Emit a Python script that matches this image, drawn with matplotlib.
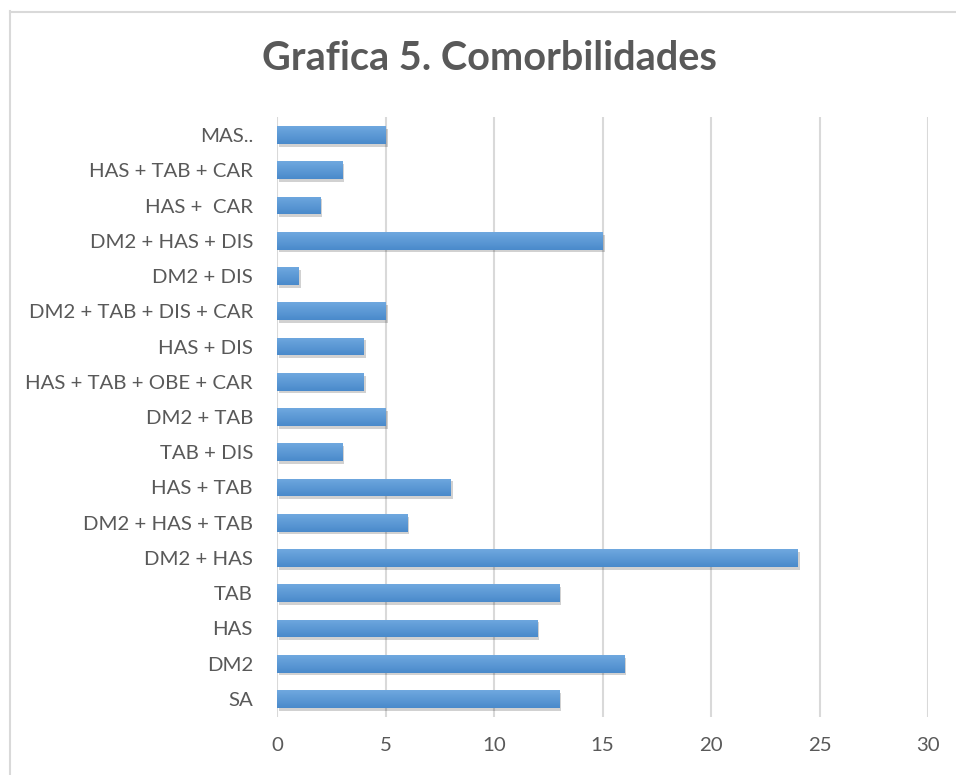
import matplotlib
matplotlib.use("Agg")
import matplotlib.pyplot as plt
import matplotlib.patheffects as pe
from matplotlib.lines import Line2D
from matplotlib.colors import LinearSegmentedColormap
import numpy as np

categories = ["SA", "DM2", "HAS", "TAB", "DM2 + HAS", "DM2 + HAS + TAB", "HAS + TAB",
              "TAB + DIS", "DM2 + TAB", "HAS + TAB + OBE + CAR", "HAS + DIS",
              "DM2 + TAB + DIS + CAR", "DM2 + DIS", "DM2 + HAS + DIS", "HAS +  CAR",
              "HAS + TAB + CAR", "MAS.."]
values = [13, 16, 12, 13, 24, 6, 8, 3, 5, 4, 4, 5, 1, 15, 2, 3, 5]
xticks = [0, 5, 10, 15, 20, 25, 30]
title = "Grafica 5. Comorbilidades"

plt.rcParams['font.family'] = ['Lato', 'DejaVu Sans']
TXT = "#595959"
GRID = "#D9D9D9"

fig = plt.figure(figsize=(9.56, 7.75), dpi=100)
ax = fig.add_axes([277/956, 58.4/775, 651/956, 599.2/775])

y = np.arange(len(categories))
bars = ax.barh(y, values, height=0.5, color="#5B9BD5", zorder=3,
               path_effects=[pe.SimplePatchShadow(offset=(1.5, -2), shadow_rgbFace="#000000", alpha=0.18),
                             pe.Normal()])

# gradient overlay on each bar
grad = np.linspace(0, 1, 64).reshape(-1, 1)
cmap = LinearSegmentedColormap.from_list("g", ["#4A8ACB", "#6FA8DF"])
for b in bars:
    x0, y0 = b.get_x(), b.get_y()
    w, h = b.get_width(), b.get_height()
    im = ax.imshow(grad, extent=(x0, x0 + w, y0, y0 + h), origin="lower",
                   cmap=cmap, aspect="auto", zorder=4)
    im.set_clip_path(b)

ax.set_xlim(0, 30)
ax.set_ylim(-0.5, len(categories) - 0.5)
ax.set_xticks(xticks)
ax.set_xticklabels([str(t) for t in xticks])
ax.set_yticks(y)
ax.set_yticklabels(categories)
ax.tick_params(axis="both", length=0, labelsize=14.7, colors=TXT)
ax.tick_params(axis="y", pad=17.3)
ax.tick_params(axis="x", pad=15)
ax.xaxis.grid(True, color=GRID, linewidth=1.5, zorder=0)
ax.set_axisbelow(True)
for s in ax.spines.values():
    s.set_visible(False)

fig.text(489/956, 1 - 59/775, title, ha="center", va="center",
         fontsize=28.5, fontweight="bold", color=TXT)

# outer chart frame (left and top edges visible)
fig.add_artist(Line2D([9.5/956, 9.5/956], [0, 1 - 11/775], color=GRID, linewidth=1.5,
                      transform=fig.transFigure))
fig.add_artist(Line2D([9.5/956, 1], [1 - 11.5/775, 1 - 11.5/775], color=GRID, linewidth=1.5,
                      transform=fig.transFigure))

fig.savefig("out.png", dpi=100)
